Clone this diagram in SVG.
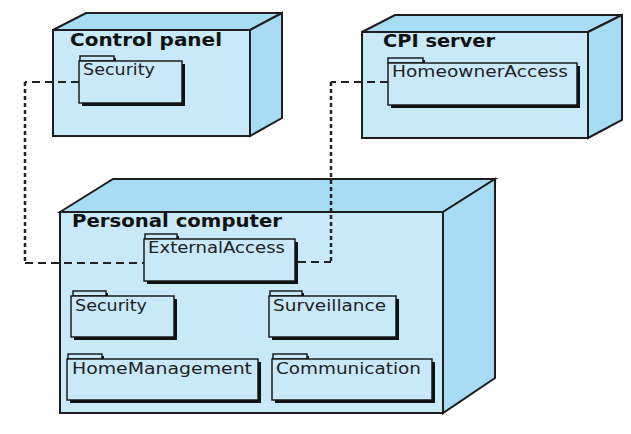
<svg xmlns="http://www.w3.org/2000/svg" width="631" height="434" viewBox="0 0 631 434">
<style>
.front{fill:#c8e9f8;stroke:#1e1e1e;stroke-width:2;stroke-linejoin:miter}
.side{fill:#a8dcf5;stroke:#1e1e1e;stroke-width:2;stroke-linejoin:miter}
.pkg{fill:#c8e9f8;stroke:#111;stroke-width:1.4}
.shadow{fill:#111}
.title{font-family:"DejaVu Sans",sans-serif;font-weight:bold;font-size:17px;fill:#111}
.lbl{font-family:"DejaVu Sans",sans-serif;font-size:15px;fill:#222}
.dh{fill:none;stroke:#222;stroke-width:2;stroke-dasharray:8 5}
.dv{fill:none;stroke:#222;stroke-width:2.5;stroke-dasharray:4 3}
</style>
<rect width="631" height="434" fill="#fff"/>

<g id="control-panel">
<polygon class="side" points="53,30 86,13 282,13 250,30"/>
<polygon class="side" points="250,30 282,13 282,118 250,136"/>
<rect class="front" x="53" y="30" width="197" height="106"/>
<text class="title" x="70" y="46" textLength="152" lengthAdjust="spacingAndGlyphs">Control panel</text>
<g id="cp-security">
<rect class="shadow" x="82" y="64" width="103" height="42"/>
<rect class="shadow" x="82" y="58" width="34" height="5"/>
<rect class="pkg" x="80" y="56" width="34" height="5"/>
<rect class="pkg" x="79" y="61" width="103" height="42"/>
<text class="lbl" x="83" y="75" textLength="72" lengthAdjust="spacingAndGlyphs">Security</text>
</g>
</g>

<g id="cpi-server">
<polygon class="side" points="362,32 395,15 622,15 588,32"/>
<polygon class="side" points="588,32 622,15 622,120 588,138"/>
<rect class="front" x="362" y="32" width="226" height="106"/>
<text class="title" x="383" y="47" textLength="112" lengthAdjust="spacingAndGlyphs">CPI server</text>
<g id="cpi-homeowneraccess">
<rect class="shadow" x="391" y="66" width="189" height="42"/>
<rect class="shadow" x="390" y="60" width="35" height="5"/>
<rect class="pkg" x="388" y="58" width="35" height="5"/>
<rect class="pkg" x="388" y="63" width="189" height="42"/>
<text class="lbl" x="392" y="77" textLength="176" lengthAdjust="spacingAndGlyphs">HomeownerAccess</text>
</g>
</g>

<g id="personal-computer">
<polygon class="side" points="60,212 113,179 495,179 443,212"/>
<polygon class="side" points="443,212 495,179 495,378 443,413"/>
<rect class="front" x="60" y="212" width="383" height="201"/>
<text class="title" x="72" y="227" textLength="210" lengthAdjust="spacingAndGlyphs">Personal computer</text>
<g id="pc-externalaccess">
<rect class="shadow" x="147" y="242" width="151" height="42"/>
<rect class="shadow" x="147" y="236" width="32" height="5"/>
<rect class="pkg" x="145" y="234" width="32" height="5"/>
<rect class="pkg" x="144" y="239" width="151" height="42"/>
<text class="lbl" x="148" y="253" textLength="137" lengthAdjust="spacingAndGlyphs">ExternalAccess</text>
</g>
<g id="pc-security">
<rect class="shadow" x="74" y="299" width="103" height="41"/>
<rect class="shadow" x="75" y="293" width="33" height="5"/>
<rect class="pkg" x="73" y="291" width="33" height="5"/>
<rect class="pkg" x="71" y="296" width="103" height="41"/>
<text class="lbl" x="75" y="311" textLength="72" lengthAdjust="spacingAndGlyphs">Security</text>
</g>
<g id="pc-surveillance">
<rect class="shadow" x="272" y="299" width="127" height="41"/>
<rect class="shadow" x="272" y="293" width="32" height="5"/>
<rect class="pkg" x="270" y="291" width="32" height="5"/>
<rect class="pkg" x="269" y="296" width="127" height="41"/>
<text class="lbl" x="273" y="311" textLength="113" lengthAdjust="spacingAndGlyphs">Surveillance</text>
</g>
<g id="pc-homemanagement">
<rect class="shadow" x="70" y="362" width="191" height="41"/>
<rect class="shadow" x="70" y="356" width="34" height="5"/>
<rect class="pkg" x="68" y="354" width="34" height="5"/>
<rect class="pkg" x="67" y="359" width="191" height="41"/>
<text class="lbl" x="72" y="374" textLength="180" lengthAdjust="spacingAndGlyphs">HomeManagement</text>
</g>
<g id="pc-communication">
<rect class="shadow" x="275" y="362" width="160" height="41"/>
<rect class="shadow" x="275" y="356" width="34" height="5"/>
<rect class="pkg" x="273" y="354" width="34" height="5"/>
<rect class="pkg" x="272" y="359" width="160" height="41"/>
<text class="lbl" x="276" y="374" textLength="145" lengthAdjust="spacingAndGlyphs">Communication</text>
</g>
</g>

<g id="connectors">
<path class="dh" d="M79,82 H25"/>
<path class="dv" d="M25,82 V263"/>
<path class="dh" d="M25,263 H144"/>
<path class="dh" d="M388,82 H331"/>
<path class="dv" d="M331,82 V262"/>
<path class="dh" d="M298,262 H331"/>
</g>
</svg>
